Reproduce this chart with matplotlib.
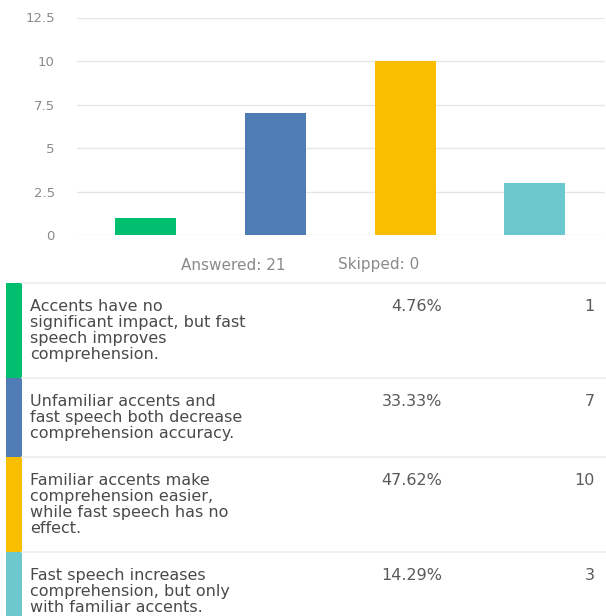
import matplotlib.pyplot as plt
from matplotlib.patches import Rectangle

# ---- data ----
categories = [
    "Accents have no\nsignificant impact, but fast\nspeech improves\ncomprehension.",
    "Unfamiliar accents and\nfast speech both decrease\ncomprehension accuracy.",
    "Familiar accents make\ncomprehension easier,\nwhile fast speech has no\neffect.",
    "Fast speech increases\ncomprehension, but only\nwith familiar accents.",
]
counts = [1, 7, 10, 3]
percents = ["4.76%", "33.33%", "47.62%", "14.29%"]
colors = ["#00bf6f", "#507cb6", "#f9be00", "#6bc8cd"]
yticks = [0, 2.5, 5, 7.5, 10, 12.5]
ytick_labels = ["0", "2.5", "5", "7.5", "10", "12.5"]
answered = 21
skipped = 0

W, H = 606, 616
plt.rcParams['font.family'] = ["DejaVu Sans"]

fig = plt.figure(figsize=(W / 100, H / 100), dpi=100)
fig.patch.set_facecolor("white")

# ---- bar chart ----
ax = fig.add_axes([77 / W, 1 - 235 / H, 528 / W, (235 - 17.5) / H])
xs = list(range(len(counts)))
ax.bar(xs, counts, width=0.47, color=colors, zorder=3)
ax.set_xlim(-0.53, 3.54)
ax.set_ylim(0, 12.5)
ax.set_yticks(yticks)
ax.set_yticklabels(ytick_labels)
ax.set_xticks([])
ax.tick_params(axis="y", length=0, pad=16, labelsize=9.5, labelcolor="#8a8a8a")
for s in ax.spines.values():
    s.set_visible(False)
ax.yaxis.grid(True, color="#e6e6e6", linewidth=1.0, zorder=0)
ax.set_axisbelow(True)

fig.text(233 / W, 1 - 265 / H, f"Answered: {answered}", ha="center", va="center",
         fontsize=11, color="#8a8a8a")
fig.text(379 / W, 1 - 265 / H, f"Skipped: {skipped}", ha="center", va="center",
         fontsize=11, color="#8a8a8a")

# ---- table ----
tab = fig.add_axes([0, 0, 1, 1], zorder=-1)
tab.set_xlim(0, W)
tab.set_ylim(H, 0)
tab.axis("off")

row_line_h = 16.3
text_line_h = 16.0
y = 283
for cat, pct, cnt, col in zip(categories, percents, counts, colors):
    lines = cat.split("\n")
    h = 30 + row_line_h * len(lines)
    tab.add_patch(Rectangle((6, y), 16, h, facecolor=col, edgecolor="none"))
    tab.plot([22, W], [y, y], color="#ececec", linewidth=1.2)
    for i, ln in enumerate(lines):
        tab.text(30, y + 22 + i * text_line_h, ln, ha="left", va="center_baseline",
                 fontsize=11.5, color="#4a4a4a")
    tab.text(442, y + 22, pct, ha="right", va="center_baseline", fontsize=11.5, color="#5a5a5a")
    tab.text(595, y + 22, str(cnt), ha="right", va="center_baseline", fontsize=11.5, color="#5a5a5a")
    y += h

fig.savefig("out.png", dpi=100, facecolor="white")
